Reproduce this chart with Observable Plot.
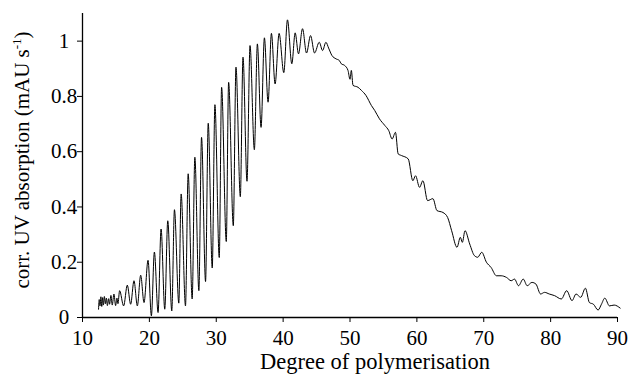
<!DOCTYPE html>
<html><head><meta charset="utf-8">
<script src="https://cdn.jsdelivr.net/npm/d3@7"></script>
<script src="https://cdn.jsdelivr.net/npm/@observablehq/plot@0.6"></script>
<style>body{margin:0;background:#fff}#chart{width:629px;height:376px}</style>
</head><body><div id="chart"></div>
<script>
// Tick labels and axis titles
const xTicks = [10, 20, 30, 40, 50, 60, 70, 80, 90];
const yTicks = [0, 0.2, 0.4, 0.6, 0.8, 1];
const xTitle = "Degree of polymerisation";
const yTitle = "corr. UV absorption (mAU s";
const yTitleSup = "-1";
const yTitleEnd = ")";

// Onset: noisy baseline (degree of polymerisation, corr. UV absorption)
const onsetDP = [12.4, 12.5, 12.62, 12.75, 12.88, 13.0, 13.12, 13.27, 13.42, 13.57, 13.72, 13.9, 14.05, 14.25, 14.45, 14.7, 14.95, 15.15, 15.3, 15.55];
const onsetUV = [0.03, 0.065, 0.042, 0.075, 0.04, 0.072, 0.045, 0.076, 0.05, 0.07, 0.043, 0.068, 0.048, 0.08, 0.045, 0.085, 0.043, 0.07, 0.05, 0.097];

// Resolved oligomer ladder: alternating troughs and peaks
const ladderDP = [16.15, 16.7, 17.2, 17.7, 18.2, 18.7, 19.2, 19.8, 20.3, 20.75, 21.3, 21.75, 22.3, 22.75, 23.35, 23.75, 24.4, 24.75, 25.4, 25.8, 26.4, 26.8, 27.4, 27.8, 28.4, 28.8, 29.4, 29.8, 30.45, 30.8, 31.5, 31.85, 32.55, 32.95, 33.6, 34.0, 34.6, 35.05, 35.7, 36.15, 36.7, 37.2, 37.75, 38.25, 38.8, 39.4, 40.1, 40.65, 41.3, 41.8, 42.3, 42.9, 43.5, 44.1, 44.7, 45.4];
const ladderUV = [0.042, 0.117, 0.048, 0.133, 0.042, 0.153, 0.054, 0.207, 0.006, 0.237, 0.018, 0.32, 0.03, 0.35, 0.024, 0.39, 0.052, 0.447, 0.042, 0.52, 0.067, 0.58, 0.097, 0.652, 0.13, 0.703, 0.179, 0.77, 0.217, 0.833, 0.275, 0.851, 0.332, 0.906, 0.437, 0.942, 0.493, 0.984, 0.607, 0.99, 0.688, 1.012, 0.779, 1.028, 0.845, 1.028, 0.886, 1.077, 0.918, 1.03, 0.954, 1.045, 0.957, 1.02, 0.957, 0.996];

// Unresolved tail
const tailDP = [45.9, 46.4, 46.8, 47.3, 47.9, 48.4, 48.7, 49.2, 49.7, 50.0, 50.2, 50.45, 51.2, 51.7, 52.4, 53.2, 53.7, 54.4, 55.2, 55.8, 56.3, 56.8, 57.2, 57.7, 58.7, 59.4, 59.8, 60.4, 60.9, 61.6, 62.4, 63.0, 63.9, 64.6, 65.2, 66.0, 66.5, 66.8, 67.2, 67.9, 68.6, 69.1, 69.7, 70.4, 71.1, 71.9, 72.6, 73.4, 74.1, 74.6, 75.2, 75.9, 76.5, 77.2, 77.8, 78.5, 79.1, 79.8, 80.6, 81.6, 82.4, 83.2, 83.8, 84.5, 85.2, 85.8, 86.4, 87.1, 87.6, 88.1, 88.8, 89.5, 90.4];
const tailUV = [0.966, 0.996, 0.975, 0.948, 0.936, 0.93, 0.918, 0.912, 0.894, 0.862, 0.894, 0.84, 0.833, 0.822, 0.803, 0.767, 0.749, 0.719, 0.695, 0.676, 0.646, 0.67, 0.592, 0.586, 0.574, 0.495, 0.513, 0.471, 0.495, 0.423, 0.43, 0.387, 0.38, 0.362, 0.314, 0.254, 0.29, 0.272, 0.314, 0.266, 0.224, 0.218, 0.236, 0.2, 0.181, 0.151, 0.151, 0.145, 0.133, 0.139, 0.115, 0.139, 0.115, 0.127, 0.121, 0.085, 0.091, 0.085, 0.079, 0.067, 0.097, 0.061, 0.085, 0.073, 0.106, 0.054, 0.048, 0.027, 0.048, 0.07, 0.042, 0.045, 0.034];

const allDP = onsetDP.concat(ladderDP, tailDP);
const allUV = onsetUV.concat(ladderUV, tailUV);
const data = allDP.map((dp, i) => ({dp, uv: allUV[i]}));

const fmtY = d => String(Math.round(d * 10) / 10);

const chart = Plot.plot({
  width: 629, height: 376,
  marginLeft: 82, marginRight: 12, marginTop: 13, marginBottom: 59,
  style: {fontFamily: '"Liberation Serif", "Times New Roman", serif', fontSize: "21px", background: "white", color: "black", overflow: "visible"},
  x: {domain: [10, 90]},
  y: {domain: [0, 1.1]},
  marks: [
    Plot.axisX({ticks: xTicks, tickSize: 5, tickPadding: 8, label: null, tickFormat: d => String(d)}),
    Plot.axisY({ticks: yTicks, tickSize: 5, tickPadding: 13.5, textAnchor: "middle", label: null, tickFormat: fmtY}),
    Plot.ruleX([10], {y1: 0, y2: 1.1, stroke: "black", strokeWidth: 1.3}),
    Plot.ruleY([0], {x1: 10, x2: 90, stroke: "black", strokeWidth: 1.3}),
    Plot.line(data, {x: "dp", y: "uv", curve: "monotone-x", stroke: "black", strokeWidth: 1})
  ]
});
document.getElementById("chart").appendChild(chart);

const svg = d3.select(chart);
svg.append("text")
  .attr("x", 375).attr("y", 369)
  .attr("text-anchor", "middle")
  .attr("font-family", '"Liberation Serif", serif').attr("font-size", 22.5).attr("fill", "black")
  .text(xTitle);
const yt = svg.append("text")
  .attr("transform", "translate(29,160) rotate(-90)")
  .attr("text-anchor", "middle")
  .attr("font-family", '"Liberation Serif", serif').attr("font-size", 21).attr("fill", "black");
yt.append("tspan").text(yTitle);
yt.append("tspan").attr("font-size", 13).attr("dy", -8).text(yTitleSup);
yt.append("tspan").attr("dy", 8).text(yTitleEnd);
</script>
</body></html>
